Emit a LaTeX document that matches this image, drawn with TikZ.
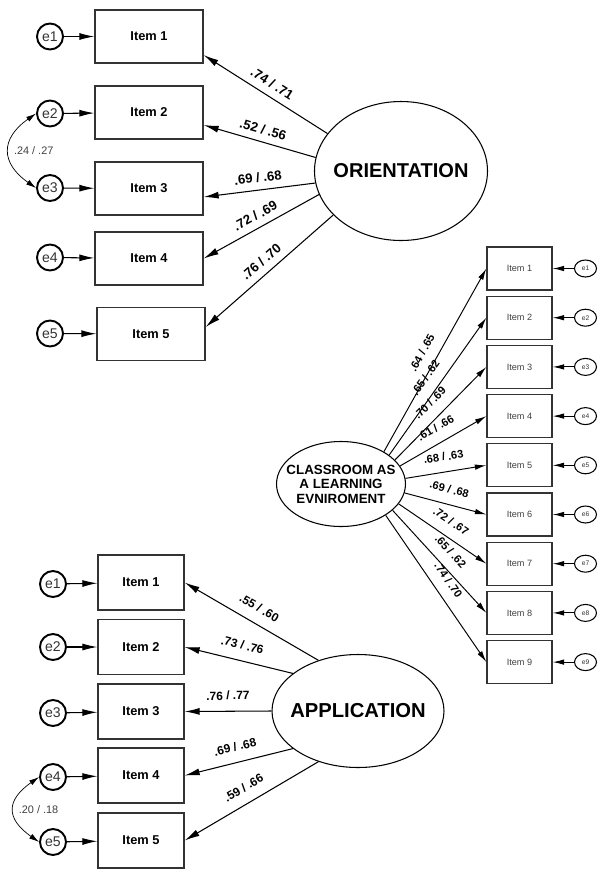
\documentclass[tikz,border=0pt]{standalone}
\usepackage{fontspec}
\setmainfont{Liberation Sans}
\usepackage{tikz}
\usetikzlibrary{arrows.meta,shapes.geometric}

\tikzset{
  itemO/.style={draw=black!80, line width=0.75pt, minimum width=2.16cm, minimum height=1.06cm, inner sep=0pt, font=\bfseries\fontsize{7.3}{9}\selectfont},
  itemA/.style={itemO, minimum width=1.72cm, minimum height=1.1cm},
  itemC/.style={draw=black!80, line width=0.7pt, minimum width=1.3cm, minimum height=0.86cm, inner sep=0pt, text=black!75, font=\fontsize{5.2}{6}\selectfont},
  err/.style={circle, draw, line width=1.1pt, minimum size=0.52cm, inner sep=0pt, text=black!80, font=\fontsize{8}{9}\selectfont},
  errC/.style={ellipse, draw, line width=0.6pt, minimum width=0.44cm, minimum height=0.34cm, inner sep=0pt, text=black!80, font=\fontsize{3.8}{4}\selectfont},
  latent/.style={ellipse, draw, line width=0.6pt, inner sep=0pt},
  latext/.style={align=center, inner sep=0pt, font=\bfseries},
  load/.style={-{Latex[length=3mm,width=1.4mm]}, line width=0.6pt},
  loadC/.style={-{Latex[length=2.3mm,width=1.1mm]}, line width=0.55pt},
  lab/.style={midway, above=3pt, sloped, inner sep=1pt, font=\bfseries\fontsize{7.5}{9}\selectfont},
  labA/.style={lab, above=2pt, font=\bfseries\fontsize{6.8}{8}\selectfont},
  labC/.style={lab, above=2pt, font=\bfseries\fontsize{6.3}{8}\selectfont},
  cov/.style={{Latex[length=2mm,width=1.1mm]}-{Latex[length=2mm,width=1.1mm]}, line width=0.4pt, out=215, in=145, looseness=1.5},
  covlab/.style={midway, right=1.5pt, inner sep=1pt, text=black!75, font=\fontsize{6.2}{8}\selectfont}
}

\begin{document}
\begin{tikzpicture}
\useasboundingbox (0,0) rectangle (11.94,-17.54);

% orientation
\node[latent, minimum width=3.46cm, minimum height=2.78cm] (OR) at (8.02,-3.42) {};
\node[latext, font=\bfseries\fontsize{11.4}{13}\selectfont] (ORtext) at (OR) {ORIENTATION};

\node[itemO] (O1) at (2.98,-0.73) {Item 1};
\node[itemO] (O2) at (2.98,-2.25) {Item 2};
\node[itemO] (O3) at (2.98,-3.77) {Item 3};
\node[itemO] (O4) at (2.98,-5.17) {Item 4};
\node[itemO] (O5) at (3.02,-6.68) {Item 5};

\node[err] (eO1) at (1.0,-0.73) {e1};
\node[err] (eO2) at (1.0,-2.27) {e2};
\node[err] (eO3) at (1.0,-3.76) {e3};
\node[err] (eO4) at (1.0,-5.15) {e4};
\node[err] (eO5) at (1.0,-6.67) {e5};

\draw[load] (eO1) -- (O1);
\draw[load] (eO2) -- (O2);
\draw[load] (eO3) -- (O3);
\draw[load] (eO4) -- (O4);
\draw[load] (eO5) -- (O5);

\draw[load] (OR.153) -- ([yshift=-0.37cm]O1.east) node[lab] {.74 / .71};
\draw[load] (OR.171) -- ([yshift=-0.25cm]O2.east) node[lab] {.52 / .56};
\draw[load] (OR.188) -- ([yshift=-0.17cm]O3.east) node[lab] {.69 / .68};
\draw[load] (OR.196) -- (O4.east) node[lab] {.72 / .69};
\draw[load] (OR.213) -- ([yshift=0.14cm]O5.east) node[lab] {.76 / .70};

\draw[cov] (eO2.west) to node[covlab] {.24 / .27} (eO3.west);

% classroom
\node[latent, minimum width=2.58cm, minimum height=1.7cm] (CL) at (6.82,-9.68) {};
\node[latext, font=\bfseries\fontsize{7.6}{8.3}\selectfont] (CLtext) at (CL) {CLASSROOM AS\\A LEARNING\\EVNIROMENT};

\node[itemC] (C1) at (10.39,-5.37) {Item 1};
\node[itemC] (C2) at (10.39,-6.354) {Item 2};
\node[itemC] (C3) at (10.39,-7.338) {Item 3};
\node[itemC] (C4) at (10.39,-8.322) {Item 4};
\node[itemC] (C5) at (10.39,-9.306) {Item 5};
\node[itemC] (C6) at (10.39,-10.29) {Item 6};
\node[itemC] (C7) at (10.39,-11.274) {Item 7};
\node[itemC] (C8) at (10.39,-12.258) {Item 8};
\node[itemC] (C9) at (10.39,-13.242) {Item 9};

\node[errC] (eC1) at (11.71,-5.37) {e1};
\node[errC] (eC2) at (11.71,-6.354) {e2};
\node[errC] (eC3) at (11.71,-7.338) {e3};
\node[errC] (eC4) at (11.71,-8.322) {e4};
\node[errC] (eC5) at (11.71,-9.306) {e5};
\node[errC] (eC6) at (11.71,-10.29) {e6};
\node[errC] (eC7) at (11.71,-11.274) {e7};
\node[errC] (eC8) at (11.71,-12.258) {e8};
\node[errC] (eC9) at (11.71,-13.242) {e9};

\draw[loadC] (eC1) -- (C1);
\draw[loadC] (eC2) -- (C2);
\draw[loadC] (eC3) -- (C3);
\draw[loadC] (eC4) -- (C4);
\draw[loadC] (eC5) -- (C5);
\draw[loadC] (eC6) -- (C6);
\draw[loadC] (eC7) -- (C7);
\draw[loadC] (eC8) -- (C8);
\draw[loadC] (eC9) -- (C9);

\draw[loadC] (CL.37) -- (C1.west) node[labC] {.64 / .65};
\draw[loadC] (CL.31) -- (C2.west) node[labC] {.65 / .62};
\draw[loadC] (CL.24) -- (C3.west) node[labC] {.70 / .69};
\draw[loadC] (CL.17) -- (C4.west) node[labC] {.61 / .66};
\draw[loadC] (CL.5) -- (C5.west) node[labC] {.68 / .63};
\draw[loadC] (CL.-8) -- (C6.west) node[labC] {.69 / .68};
\draw[loadC] (CL.-19) -- (C7.west) node[labC] {.72 / .67};
\draw[loadC] (CL.-27) -- (C8.west) node[labC] {.65 / .62};
\draw[loadC] (CL.-35) -- (C9.west) node[labC] {.74 / .70};

% application
\node[latent, minimum width=3.44cm, minimum height=2.26cm] (AP) at (7.16,-14.22) {};
\node[latext, font=\bfseries\fontsize{11.5}{13}\selectfont] (APtext) at (AP) {APPLICATION};

\node[itemA] (A1) at (2.82,-11.65) {Item 1};
\node[itemA] (A2) at (2.82,-12.94) {Item 2};
\node[itemA] (A3) at (2.82,-14.23) {Item 3};
\node[itemA] (A4) at (2.82,-15.51) {Item 4};
\node[itemA] (A5) at (2.82,-16.81) {Item 5};

\node[err] (eA1) at (1.06,-11.68) {e1};
\node[err] (eA2) at (1.06,-12.94) {e2};
\node[err] (eA3) at (1.06,-14.26) {e3};
\node[err] (eA4) at (1.06,-15.54) {e4};
\node[err] (eA5) at (1.06,-16.84) {e5};

\draw[load] (eA1) -- (A1);
\draw[load] (eA2) -- (A2);
\draw[load] (eA3) -- (A3);
\draw[load] (eA4) -- (A4);
\draw[load] (eA5) -- (A5);

\draw[load] (AP.128) -- (A1.east) node[labA] {.55 / .60};
\draw[load] (AP.150) -- (A2.east) node[labA] {.73 / .76};
\draw[load] (AP.180) -- (A3.east) node[labA] {.76 / .77};
\draw[load] (AP.210) -- (A4.east) node[labA] {.69 / .68};
\draw[load] (AP.232) -- (A5.east) node[labA] {.59 / .66};

\draw[cov, looseness=1.6] (eA4.west) to node[covlab] {.20 / .18} (eA5.west);
\end{tikzpicture}
\end{document}
